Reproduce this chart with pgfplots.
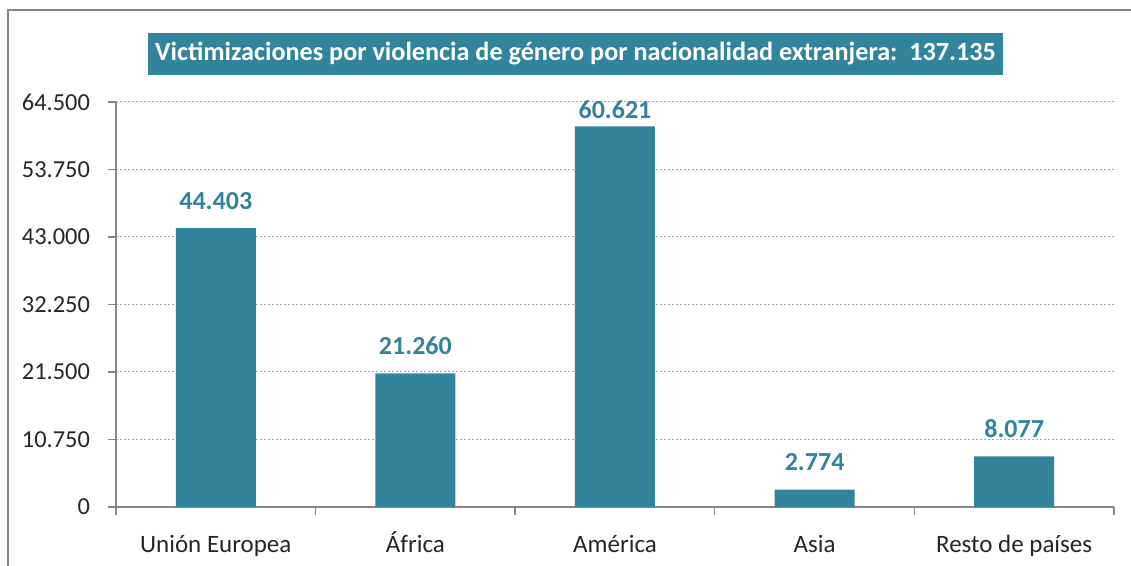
\documentclass[border=0pt]{standalone}
\usepackage{pgfplots}
\pgfplotsset{compat=1.18}
\usepackage{pgfplotstable}
\usepackage{fontspec}
\setmainfont{Carlito}
\definecolor{teal1}{HTML}{31849B}
\definecolor{axgray}{HTML}{868686}
\definecolor{gridgray}{HTML}{A6A6A6}
\pgfplotstableread{
x y s
0 44403 9
1 21260 9
2 60621 3.5
3 2774 9
4 8077 9
}\datatable
\begin{document}
\begin{tikzpicture}
\useasboundingbox (0,0) rectangle (565.5pt,283pt);
\draw[axgray, line width=1.2pt] (4pt,-2pt) -- (4pt,278pt) -- (570pt,278pt);
\node[fill=teal1, text=white, font=\fontsize{13.1}{15}\selectfont\bfseries, minimum width=427.5pt, minimum height=21pt, inner sep=0pt] at (287.75pt,256pt) {Victimizaciones por violencia de género por nacionalidad extranjera:\ \ 137.135};
\begin{axis}[
  at={(58pt,29.5pt)}, anchor=south west,
  scale only axis, width=499pt, height=202.5pt,
  xmin=-0.5, xmax=4.5, ymin=0, ymax=64500,
  axis x line=bottom, axis y line=left,
  axis line style={axgray, line width=0.7pt, -},
  xtick={0,1,2,3,4},
  xticklabels={Unión Europea, África, América, Asia, Resto de países},
  major x tick style={draw=none},
  minor xtick={-0.5,0.5,1.5,2.5,3.5,4.5},
  minor x tick style={axgray, line width=0.7pt},
  minor tick length=4pt,
  ytick={0,10750,21500,32250,43000,53750,64500},
  scaled y ticks=false,
  ytick style={axgray, line width=0.7pt},
  major tick length=4pt,
  tick align=outside,
  ymajorgrids,
  major y grid style={gridgray, dash pattern=on 1pt off 1pt, line width=0.5pt},
  yticklabel style={font=\fontsize{12.2}{15}\selectfont, text=black!85, xshift=-5.5pt},
  xticklabel style={font=\fontsize{12.5}{15}\selectfont, text=black!85, anchor=north, text height=10pt, text depth=3pt, yshift=-5.2pt},
  /pgf/number format/.cd, fixed, 1000 sep={.}, assume math mode=true,
]
\addplot[ybar, bar width=40pt, fill=teal1, draw=none,
  nodes near coords,
  visualization depends on={\thisrow{s} \as \myshift},
  every node near coord/.append style={font=\fontsize{13}{15}\selectfont\bfseries, text=teal1, anchor=south, inner sep=0pt, yshift=\myshift pt, /pgf/number format/.cd, fixed, 1000 sep={.}, assume math mode=true},
] table[x=x, y=y] {\datatable};
\end{axis}
\end{tikzpicture}
\end{document}
